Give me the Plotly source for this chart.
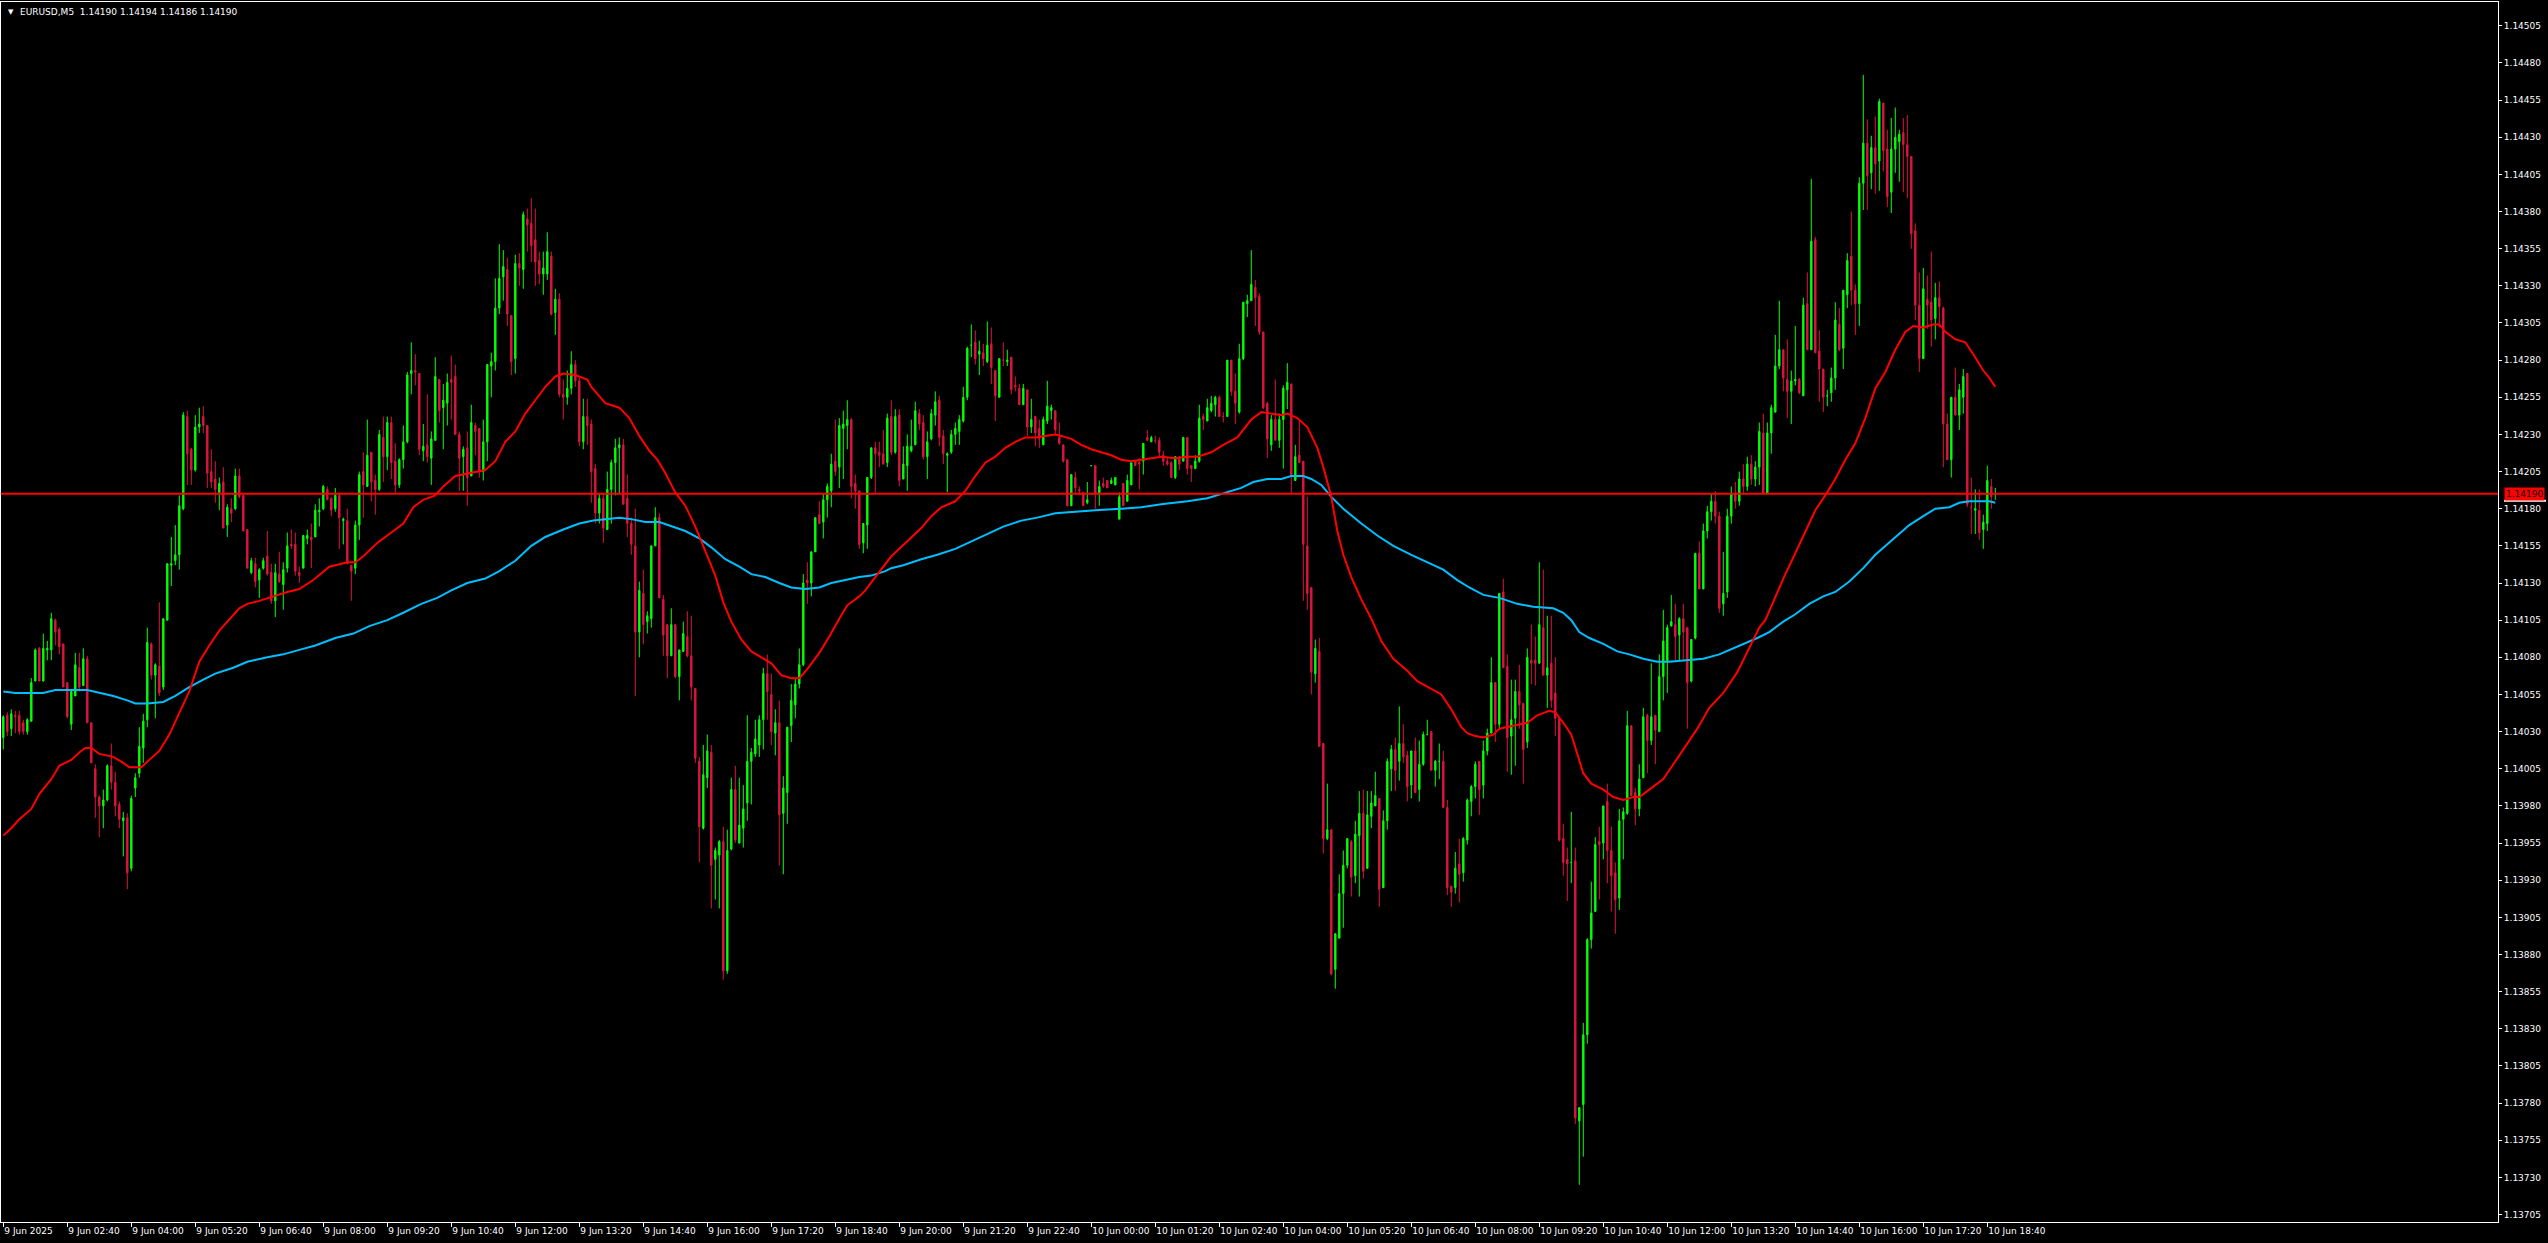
import plotly.graph_objects as go

# ---------------- data (prices in points: value 14190 -> 1.14190) ----------------
opens = [
    14026, 14041, 14032, 14041, 14041, 14036, 14030, 14037, 14064, 14086,
    14064, 14085, 14085, 14105, 14099, 14089, 14063, 14035, 14054, 14073,
    14061, 14079, 14036, 14005, 13986, 13980, 13984, 14007, 13996, 13981,
    13970, 13972, 13938, 13992, 14002, 14019, 14038, 14089, 14068, 14074,
    14060, 14105, 14142, 14145, 14149, 14180, 14242, 14220, 14206, 14235,
    14242, 14236, 14205, 14200, 14191, 14198, 14169, 14180, 14180, 14202,
    14189, 14166, 14137, 14143, 14132, 14140, 14148, 14137, 14118, 14136,
    14129, 14140, 14156, 14156, 14137, 14140, 14160, 14161, 14161, 14178,
    14180, 14193, 14187, 14180, 14189, 14172, 14172, 14142, 14140, 14169,
    14205, 14195, 14218, 14199, 14193, 14228, 14215, 14238, 14212, 14196,
    14213, 14225, 14271, 14273, 14271, 14219, 14223, 14214, 14226, 14267,
    14248, 14251, 14267, 14269, 14230, 14215, 14221, 14202, 14236, 14234,
    14205, 14225, 14276, 14279, 14315, 14336, 14341, 14310, 14281, 14345,
    14341, 14375, 14372, 14361, 14347, 14338, 14338, 14350, 14312, 14321,
    14257, 14255, 14261, 14277, 14266, 14225, 14242, 14237, 14207, 14177,
    14187, 14166, 14193, 14211, 14221, 14223, 14187, 14170, 14155, 14097,
    14123, 14104, 14106, 14155, 14174, 14119, 14102, 14081, 14102, 14067,
    14084, 14094, 14081, 14059, 14010, 13965, 13999, 14016, 13944, 13947,
    13956, 13869, 13951, 13991, 13955, 13965, 13982, 14010, 14015, 14021,
    14038, 14069, 14055, 14029, 14036, 13975, 13989, 14034, 14048, 14062,
    14075, 14132, 14130, 14151, 14176, 14171, 14186, 14192, 14212, 14208,
    14234, 14236, 14240, 14197, 14192, 14157, 14169, 14201, 14221, 14218,
    14217, 14211, 14242, 14218, 14243, 14200, 14209, 14219, 14223, 14244,
    14238, 14215, 14227, 14243, 14253, 14229, 14216, 14218, 14230, 14232,
    14239, 14255, 14290, 14292, 14284, 14285, 14279, 14291, 14273, 14255,
    14280, 14279, 14282, 14263, 14261, 14250, 14260, 14235, 14242, 14234,
    14223, 14239, 14246, 14246, 14228, 14223, 14213, 14182, 14201, 14193,
    14191, 14184, 14209, 14209, 14190, 14197, 14199, 14197, 14196, 14173,
    14197, 14185, 14196, 14212, 14211, 14212, 14228, 14225, 14226, 14226,
    14216, 14212, 14211, 14201, 14215, 14212, 14228, 14209, 14207, 14212,
    14242, 14239, 14246, 14250, 14255, 14242, 14242, 14280, 14259, 14245,
    14281, 14318, 14320, 14329, 14323, 14299, 14251, 14223, 14240, 14226,
    14240, 14260, 14264, 14199, 14216, 14212, 14155, 14127, 14069, 14084,
    14022, 13958, 13964, 13870, 13891, 13921, 13940, 13956, 13933, 13960,
    13975, 13938, 13973, 13980, 13985, 13925, 13970, 14005, 14018, 14010,
    14022, 14014, 13994, 14017, 13991, 14008, 14028, 14030, 14004, 14010,
    14010, 13979, 13926, 13925, 13941, 13935, 13957, 13983, 13993, 14010,
    13994, 14017, 14029, 14063, 14035, 14124, 14074, 14027, 14039, 14057,
    14049, 14023, 14078, 14078, 14076, 14100, 14068, 14076, 14056, 14039,
    13958, 13944, 13942, 13943, 13768, 13779, 13826, 13890, 13909, 13956,
    13955, 13983, 13950, 13935, 13918, 13971, 13975, 14034, 13989, 13978,
    13999, 14041, 14024, 14041, 14030, 14067, 14077, 14101, 14102, 14095,
    14106, 14100, 14064, 14093, 14150, 14126, 14165, 14178, 14185, 14175,
    14116, 14124, 14175, 14190, 14185, 14200, 14195, 14210, 14200, 14208,
    14231, 14190, 14231, 14245, 14276, 14287, 14267, 14259, 14266, 14267,
    14256, 14318, 14287, 14361, 14286, 14274, 14256, 14258, 14268, 14304,
    14288, 14324, 14350, 14327, 14318, 14399, 14426, 14406, 14423, 14414,
    14453, 14422, 14393, 14422, 14427, 14433, 14425, 14417, 14367, 14317,
    14281, 14321, 14319, 14308, 14322, 14315, 14237, 14213, 14255, 14243,
    14255, 14271, 14181, 14179, 14179, 14166, 14170, 14195, 14190,
]
highs = [
    14041, 14043, 14045, 14044, 14044, 14038, 14039, 14066, 14086, 14087,
    14096, 14091, 14110, 14106, 14100, 14089, 14063, 14057, 14083, 14083,
    14086, 14081, 14036, 14008, 13987, 13991, 14008, 14022, 14003, 13983,
    13976, 13975, 13987, 14002, 14033, 14042, 14100, 14090, 14076, 14117,
    14106, 14143, 14161, 14169, 14189, 14245, 14246, 14221, 14243, 14248,
    14249, 14236, 14220, 14212, 14201, 14208, 14183, 14187, 14207, 14207,
    14189, 14166, 14147, 14147, 14140, 14147, 14165, 14143, 14143, 14151,
    14144, 14164, 14166, 14164, 14141, 14162, 14166, 14170, 14183, 14187,
    14196, 14195, 14188, 14194, 14191, 14174, 14180, 14142, 14172, 14205,
    14218, 14240, 14218, 14203, 14233, 14242, 14242, 14242, 14224, 14214,
    14236, 14272, 14292, 14284, 14271, 14237, 14257, 14232, 14282, 14267,
    14264, 14271, 14283, 14277, 14232, 14222, 14232, 14250, 14238, 14234,
    14240, 14277, 14285, 14335, 14358, 14354, 14349, 14310, 14351, 14352,
    14380, 14382, 14389, 14382, 14353, 14353, 14366, 14353, 14328, 14325,
    14267, 14273, 14286, 14280, 14268, 14254, 14254, 14240, 14210, 14190,
    14190, 14205, 14213, 14227, 14228, 14227, 14203, 14174, 14180, 14131,
    14139, 14111, 14155, 14181, 14177, 14122, 14102, 14113, 14102, 14085,
    14104, 14111, 14108, 14059, 14013, 14021, 14028, 14021, 13952, 13957,
    13966, 13964, 13999, 14007, 13999, 13994, 14041, 14019, 14038, 14041,
    14073, 14082, 14069, 14045, 14051, 14000, 14033, 14062, 14066, 14086,
    14136, 14144, 14151, 14174, 14185, 14190, 14197, 14217, 14240, 14241,
    14246, 14253, 14241, 14203, 14192, 14170, 14201, 14221, 14225, 14225,
    14233, 14244, 14253, 14247, 14247, 14222, 14230, 14240, 14252, 14247,
    14243, 14232, 14247, 14259, 14256, 14233, 14218, 14233, 14238, 14243,
    14262, 14289, 14304, 14300, 14293, 14291, 14306, 14302, 14273, 14281,
    14292, 14287, 14282, 14269, 14264, 14264, 14260, 14254, 14242, 14240,
    14242, 14266, 14250, 14246, 14238, 14223, 14213, 14203, 14205, 14195,
    14191, 14198, 14209, 14209, 14199, 14201, 14199, 14201, 14201, 14191,
    14197, 14203, 14211, 14212, 14214, 14224, 14233, 14229, 14229, 14228,
    14219, 14214, 14212, 14215, 14215, 14228, 14228, 14209, 14216, 14250,
    14244, 14254, 14256, 14256, 14256, 14245, 14280, 14280, 14271, 14291,
    14319, 14324, 14354, 14334, 14325, 14299, 14252, 14243, 14267, 14244,
    14263, 14278, 14264, 14223, 14239, 14212, 14188, 14127, 14092, 14093,
    14022, 13995, 13964, 13894, 13934, 13950, 13958, 13957, 13970, 13990,
    13991, 13990, 13990, 14003, 13985, 13977, 14012, 14021, 14026, 14047,
    14035, 14017, 14017, 14026, 14024, 14030, 14038, 14030, 14011, 14022,
    14017, 13984, 13926, 13949, 13958, 13959, 13985, 13994, 14010, 14010,
    14024, 14032, 14080, 14063, 14123, 14133, 14082, 14065, 14065, 14075,
    14049, 14086, 14102, 14094, 14144, 14139, 14108, 14108, 14080, 14039,
    13968, 13952, 13976, 13952, 13777, 13834, 13891, 13929, 13959, 13966,
    13980, 13995, 13966, 13942, 13978, 13979, 14044, 14034, 13992, 14008,
    14046, 14042, 14076, 14041, 14082, 14112, 14102, 14122, 14116, 14107,
    14116, 14100, 14092, 14150, 14158, 14170, 14182, 14190, 14192, 14178,
    14151, 14180, 14195, 14198, 14205, 14210, 14215, 14216, 14212, 14238,
    14244, 14238, 14250, 14297, 14320, 14287, 14294, 14273, 14303, 14268,
    14322, 14339, 14402, 14363, 14300, 14274, 14260, 14275, 14319, 14315,
    14327, 14352, 14380, 14331, 14403, 14472, 14442, 14431, 14444, 14456,
    14453, 14435, 14443, 14450, 14435, 14443, 14445, 14417, 14372, 14339,
    14342, 14337, 14353, 14332, 14333, 14316, 14244, 14255, 14275, 14264,
    14274, 14271, 14201, 14193, 14193, 14176, 14209, 14200, 14194,
]
lows = [
    14018, 14027, 14027, 14029, 14028, 14028, 14028, 14037, 14064, 14064,
    14064, 14078, 14078, 14088, 14082, 14060, 14039, 14031, 14054, 14057,
    14061, 14036, 14009, 13972, 13959, 13965, 13983, 13991, 13973, 13965,
    13946, 13924, 13936, 13986, 13999, 14009, 14033, 14065, 14039, 14054,
    14058, 14105, 14128, 14142, 14139, 14179, 14196, 14196, 14205, 14231,
    14231, 14194, 14194, 14184, 14179, 14167, 14161, 14171, 14179, 14187,
    14165, 14140, 14136, 14127, 14120, 14139, 14135, 14116, 14107, 14130,
    14112, 14137, 14153, 14135, 14130, 14140, 14156, 14140, 14161, 14168,
    14179, 14186, 14175, 14178, 14153, 14156, 14143, 14118, 14136, 14159,
    14174, 14195, 14185, 14176, 14192, 14198, 14206, 14200, 14190, 14194,
    14207, 14224, 14257, 14263, 14216, 14212, 14211, 14196, 14226, 14238,
    14220, 14236, 14240, 14230, 14192, 14192, 14182, 14202, 14216, 14201,
    14199, 14212, 14255, 14273, 14311, 14320, 14303, 14270, 14271, 14330,
    14328, 14353, 14346, 14330, 14331, 14324, 14334, 14310, 14297, 14255,
    14240, 14250, 14257, 14262, 14222, 14220, 14223, 14184, 14170, 14170,
    14157, 14166, 14170, 14189, 14190, 14183, 14161, 14149, 14054, 14080,
    14089, 14096, 14100, 14155, 14120, 14081, 14066, 14081, 14066, 14051,
    14084, 14080, 14051, 14009, 13942, 13964, 13992, 13911, 13917, 13911,
    13863, 13867, 13950, 13955, 13955, 13952, 13970, 13981, 14013, 14013,
    14018, 14038, 14021, 14014, 13940, 13934, 13968, 14023, 14039, 14059,
    14074, 14116, 14121, 14151, 14170, 14160, 14174, 14181, 14202, 14194,
    14200, 14220, 14187, 14180, 14153, 14150, 14153, 14200, 14190, 14208,
    14210, 14208, 14216, 14217, 14195, 14200, 14192, 14218, 14223, 14233,
    14213, 14200, 14226, 14236, 14222, 14210, 14191, 14217, 14223, 14223,
    14238, 14253, 14282, 14277, 14270, 14276, 14278, 14264, 14239, 14255,
    14276, 14276, 14257, 14259, 14250, 14250, 14229, 14231, 14222, 14221,
    14223, 14237, 14240, 14230, 14223, 14211, 14182, 14182, 14190, 14189,
    14182, 14183, 14209, 14180, 14182, 14194, 14194, 14197, 14196, 14173,
    14182, 14185, 14196, 14209, 14193, 14203, 14226, 14225, 14224, 14215,
    14209, 14209, 14201, 14200, 14206, 14212, 14203, 14198, 14207, 14211,
    14233, 14239, 14245, 14242, 14242, 14238, 14242, 14256, 14237, 14244,
    14280, 14309, 14320, 14303, 14297, 14247, 14214, 14219, 14226, 14221,
    14207, 14247, 14190, 14199, 14211, 14118, 14112, 14055, 14063, 14020,
    13948, 13957, 13866, 13857, 13891, 13898, 13938, 13919, 13928, 13919,
    13931, 13938, 13965, 13980, 13912, 13925, 13964, 13990, 13990, 13997,
    14009, 13983, 13985, 13989, 13983, 14007, 14028, 14004, 13993, 13998,
    13979, 13920, 13912, 13921, 13915, 13929, 13954, 13973, 13985, 13974,
    13985, 14014, 14029, 14023, 14031, 14073, 14003, 14001, 14007, 14032,
    13995, 14019, 14062, 14061, 14076, 14068, 14046, 14046, 14027, 13956,
    13933, 13916, 13928, 13766, 13725, 13744, 13820, 13884, 13909, 13917,
    13944, 13928, 13909, 13894, 13910, 13944, 13974, 13987, 13967, 13973,
    13999, 14002, 14021, 14008, 14030, 14051, 14056, 14101, 14078, 14078,
    14078, 14032, 14063, 14092, 14126, 14126, 14160, 14172, 14170, 14110,
    14108, 14120, 14170, 14180, 14182, 14190, 14192, 14196, 14195, 14196,
    14190, 14190, 14217, 14245, 14274, 14259, 14241, 14237, 14263, 14257,
    14256, 14287, 14287, 14285, 14252, 14245, 14249, 14252, 14260, 14286,
    14274, 14315, 14317, 14297, 14303, 14381, 14381, 14395, 14392, 14394,
    14407, 14383, 14379, 14406, 14400, 14393, 14389, 14355, 14307, 14272,
    14281, 14301, 14289, 14294, 14302, 14208, 14213, 14201, 14243, 14233,
    14244, 14181, 14163, 14163, 14159, 14153, 14165, 14180, 14186,
]
closes = [
    14040, 14030, 14042, 14040, 14030, 14030, 14038, 14063, 14085, 14064,
    14086, 14086, 14106, 14097, 14087, 14060, 14040, 14057, 14075, 14060,
    14079, 14036, 14009, 13986, 13980, 13984, 14007, 13996, 13980, 13971,
    13972, 13935, 13985, 13999, 14020, 14037, 14090, 14068, 14075, 14056,
    14106, 14143, 14143, 14149, 14182, 14243, 14217, 14206, 14235, 14237,
    14236, 14204, 14198, 14193, 14197, 14167, 14181, 14177, 14202, 14188,
    14165, 14140, 14145, 14131, 14139, 14145, 14136, 14118, 14137, 14131,
    14139, 14155, 14155, 14138, 14135, 14162, 14162, 14159, 14179, 14179,
    14195, 14186, 14179, 14189, 14174, 14173, 14143, 14138, 14169, 14203,
    14196, 14216, 14198, 14193, 14230, 14215, 14238, 14211, 14196, 14213,
    14225, 14270, 14273, 14272, 14220, 14222, 14215, 14227, 14269, 14246,
    14253, 14265, 14265, 14230, 14214, 14220, 14201, 14238, 14232, 14205,
    14225, 14277, 14279, 14315, 14335, 14343, 14311, 14279, 14345, 14342,
    14378, 14371, 14357, 14346, 14338, 14342, 14353, 14311, 14321, 14257,
    14255, 14261, 14277, 14266, 14225, 14242, 14236, 14205, 14177, 14187,
    14167, 14193, 14211, 14221, 14223, 14183, 14170, 14156, 14097, 14125,
    14102, 14108, 14155, 14174, 14120, 14095, 14081, 14102, 14067, 14085,
    14096, 14081, 14060, 14012, 13966, 14001, 14017, 13940, 13950, 13956,
    13869, 13950, 13991, 13957, 13967, 13978, 14010, 14016, 14025, 14038,
    14069, 14057, 14030, 14036, 13974, 13992, 14033, 14051, 14062, 14075,
    14130, 14130, 14151, 14174, 14170, 14186, 14195, 14210, 14205, 14236,
    14237, 14240, 14195, 14192, 14156, 14170, 14201, 14221, 14217, 14216,
    14210, 14241, 14218, 14242, 14199, 14210, 14222, 14222, 14246, 14237,
    14215, 14225, 14244, 14252, 14228, 14217, 14217, 14230, 14234, 14240,
    14255, 14288, 14290, 14281, 14286, 14281, 14290, 14275, 14256, 14281,
    14280, 14280, 14260, 14262, 14250, 14261, 14235, 14240, 14231, 14227,
    14240, 14249, 14248, 14233, 14224, 14212, 14182, 14203, 14194, 14192,
    14182, 14186, 14209, 14190, 14195, 14195, 14194, 14199, 14201, 14188,
    14182, 14199, 14211, 14209, 14210, 14224, 14226, 14228, 14226, 14218,
    14212, 14210, 14201, 14215, 14210, 14228, 14207, 14207, 14212, 14241,
    14240, 14248, 14251, 14255, 14242, 14242, 14280, 14259, 14251, 14281,
    14319, 14320, 14331, 14322, 14299, 14248, 14227, 14240, 14226, 14240,
    14261, 14265, 14202, 14215, 14211, 14156, 14123, 14070, 14086, 14020,
    13958, 13964, 13867, 13894, 13921, 13940, 13958, 13932, 13961, 13975,
    13936, 13974, 13982, 13987, 13924, 13970, 14010, 14018, 14004, 14022,
    14013, 13993, 14017, 13989, 14008, 14028, 14028, 14004, 14010, 14010,
    13979, 13925, 13922, 13938, 13934, 13958, 13984, 13993, 14008, 13991,
    14017, 14029, 14063, 14035, 14123, 14073, 14026, 14038, 14057, 14048,
    14018, 14080, 14076, 14076, 14102, 14068, 14073, 14051, 14039, 13957,
    13942, 13941, 13942, 13770, 13777, 13826, 13890, 13908, 13954, 13954,
    13980, 13950, 13933, 13917, 13970, 13976, 14034, 13987, 13978, 13998,
    14040, 14024, 14040, 14031, 14067, 14091, 14100, 14104, 14094, 14106,
    14097, 14063, 14092, 14150, 14126, 14165, 14178, 14185, 14175, 14113,
    14123, 14175, 14190, 14185, 14200, 14195, 14210, 14200, 14208, 14232,
    14190, 14231, 14248, 14276, 14287, 14268, 14259, 14266, 14267, 14258,
    14317, 14287, 14360, 14285, 14274, 14255, 14256, 14268, 14307, 14287,
    14327, 14347, 14327, 14318, 14399, 14426, 14404, 14423, 14412, 14454,
    14421, 14390, 14422, 14430, 14432, 14425, 14417, 14365, 14317, 14281,
    14328, 14317, 14307, 14322, 14316, 14237, 14213, 14255, 14243, 14260,
    14269, 14183, 14181, 14180, 14164, 14171, 14199, 14188, 14190,
]

# moving averages (bar position, value in points)
red_ma_bars = [0, 2, 4, 7, 9, 12, 14, 17, 19, 20.5, 22, 24, 27.5, 30, 31.5, 34.5, 36.5, 39, 41.5, 44,
               46.5, 49, 51.5, 54, 57.5, 59, 61, 64, 67.5, 71, 74, 77.5, 81.5, 86, 88, 90, 93.5, 97, 100, 102.5,
               105, 108, 110, 113, 115, 118, 120.5, 123, 125.5, 128, 130.5, 133, 135.5, 138, 140, 143, 146, 147,
               150.5, 154, 156.5, 159, 161.5, 163.5, 165.5, 168, 170.5, 173, 175.5, 178, 180, 182, 184.5, 187,
               189.5, 192, 194.5, 197, 199, 201, 204, 206.5, 209, 211, 214, 215.5, 218, 220.5, 222, 224, 226,
               229.5, 232, 234.5, 238, 240.5, 243, 245.5, 248, 250.5, 253, 255.5, 258, 260.5, 263, 264.5, 267,
               269.5, 272, 274.5, 277, 279.5, 282, 284.5, 287, 289.5, 293, 296, 298.5, 302, 305, 308.5, 312,
               314.5, 317, 319.5, 321, 323.5, 326, 328.5, 330, 332, 333.5, 335, 337, 339.5, 342, 344.5, 347.5,
               351, 353.5, 357, 359.5, 362, 364.5, 366, 368, 370, 372.5, 374, 377.5, 381, 383.5, 386.5, 388,
               390, 392, 393.5, 395, 397, 400, 402.5, 405, 407.5, 409, 411.5, 415, 417.5, 420, 423.5, 426.5,
               430, 433.5, 437, 439, 440.5, 443, 445.5, 448, 450.5, 453, 455.5, 458, 460.5, 463, 465.5, 468,
               470.5, 473, 475.5, 477.5, 480, 482.5, 484, 485.5, 488, 490.5, 492.5, 495, 496.5, 498]
red_ma_vals = [13960, 13965, 13971, 13978, 13988, 13998, 14007, 14011, 14016, 14019, 14019, 14015, 14013, 14009,
               14006, 14006, 14011, 14017, 14028, 14043, 14057, 14077, 14088, 14098, 14109, 14113, 14116, 14118,
               14121, 14124, 14126, 14132, 14141, 14144, 14144, 14148, 14157, 14164, 14170, 14181, 14186, 14189,
               14195, 14202, 14203, 14205, 14206, 14212, 14225, 14232, 14244, 14253, 14262, 14269, 14271, 14270,
               14267, 14262, 14251, 14248, 14241, 14229, 14219, 14213, 14204, 14191, 14182, 14168, 14151, 14135,
               14117, 14104, 14092, 14084, 14080, 14076, 14068, 14066, 14066, 14072, 14083, 14094, 14106, 14115,
               14121, 14125, 14134, 14143, 14148, 14153, 14158, 14167, 14175, 14181, 14185, 14192, 14202, 14211,
               14215, 14221, 14225, 14228, 14228, 14229, 14230, 14229, 14227, 14223, 14220, 14218, 14216, 14213,
               14212, 14213, 14214, 14215, 14214, 14215, 14215, 14218, 14223, 14228, 14240, 14245, 14244, 14243,
               14244, 14241, 14235, 14221, 14208, 14188, 14165, 14149, 14134, 14119, 14106, 14091, 14079, 14071,
               14064, 14059, 14055, 14045, 14033, 14029, 14027, 14026, 14028, 14032, 14034, 14036, 14041, 14044,
               14043, 14036, 14028, 14015, 14002, 13995, 13991, 13986, 13984, 13986, 13986, 13991, 13998, 14008,
               14018, 14032, 14046, 14056, 14070, 14089, 14100, 14105, 14121, 14136, 14150, 14165, 14179, 14189,
               14200, 14213, 14224, 14241, 14261, 14272, 14287, 14299, 14303, 14302, 14304, 14304, 14299, 14294,
               14292, 14284, 14273, 14268, 14262]
blue_ma_bars = [0, 3, 10, 13, 21, 24, 27.5, 31, 33, 36, 40, 43, 46.5, 50, 53, 57.5, 61, 66, 70, 74, 78, 83,
                87.5, 91.5, 96, 100, 104.5, 108.5, 112, 116, 120.5, 124, 128, 132, 135.5, 140, 144, 147.5, 150.5,
                154, 157, 160.5, 164, 167, 170.5, 174, 177, 180.5, 184, 187, 190.5, 194, 197, 200.5, 204, 207,
                210.5, 214, 217, 220.5, 222, 225, 229.5, 233.5, 238, 242, 246, 250, 254.5, 258.5, 263, 267, 273,
                279.5, 284.5, 289.5, 293.5, 296, 301, 306, 309.5, 312.5, 316, 319.5, 322, 325, 327, 329.5, 332,
                335, 339.5, 343.5, 347.5, 352, 356, 360, 363.5, 366.5, 370, 374, 378.5, 382.5, 387.5, 390, 392,
                394, 396.5, 400, 403.5, 406.5, 410, 413.5, 416.5, 421, 425, 429, 432.5, 436, 438.5, 441.5, 445,
                448, 451.5, 455, 458, 461.5, 465, 468, 471.5, 475, 476.5, 480, 483, 486.5, 489, 491.5, 496.5, 498]
blue_ma_vals = [14057, 14056, 14056, 14058, 14058, 14056, 14054, 14051, 14049, 14049, 14050, 14054, 14060, 14065,
                14069, 14073, 14077, 14080, 14082, 14085, 14088, 14093, 14096, 14101, 14105, 14110, 14116, 14120,
                14125, 14130, 14133, 14138, 14145, 14155, 14161, 14166, 14170, 14172, 14173, 14174, 14173, 14171,
                14171, 14168, 14165, 14160, 14154, 14146, 14141, 14136, 14134, 14130, 14127, 14126, 14127, 14130,
                14132, 14134, 14135, 14138, 14140, 14142, 14146, 14149, 14153, 14158, 14163, 14168, 14172, 14174,
                14177, 14178, 14179, 14180, 14181, 14183, 14184, 14185, 14187, 14191, 14194, 14198, 14200, 14200,
                14202, 14202, 14200, 14196, 14188, 14180, 14170, 14162, 14155, 14149, 14144, 14139, 14132, 14127,
                14122, 14120, 14116, 14114, 14113, 14110, 14105, 14097, 14093, 14089, 14084, 14082, 14079, 14077,
                14077, 14078, 14079, 14082, 14086, 14090, 14093, 14097, 14104, 14109, 14116, 14121, 14124, 14131,
                14140, 14149, 14157, 14165, 14169, 14175, 14180, 14181, 14184, 14185, 14185, 14184]

tick_bars = [0, 16, 32, 48, 64, 80, 96, 112, 128, 144, 160, 176, 192, 208, 224, 240,
             256, 272, 288, 304, 320, 336, 352, 368, 384, 400, 416, 432, 448, 464, 480, 496]
tick_labels = ["9 Jun 2025", "9 Jun 02:40", "9 Jun 04:00", "9 Jun 05:20", "9 Jun 06:40", "9 Jun 08:00",
               "9 Jun 09:20", "9 Jun 10:40", "9 Jun 12:00", "9 Jun 13:20", "9 Jun 14:40", "9 Jun 16:00",
               "9 Jun 17:20", "9 Jun 18:40", "9 Jun 20:00", "9 Jun 21:20", "9 Jun 22:40", "10 Jun 00:00",
               "10 Jun 01:20", "10 Jun 02:40", "10 Jun 04:00", "10 Jun 05:20", "10 Jun 06:40", "10 Jun 08:00",
               "10 Jun 09:20", "10 Jun 10:40", "10 Jun 12:00", "10 Jun 13:20", "10 Jun 14:40", "10 Jun 16:00",
               "10 Jun 17:20", "10 Jun 18:40"]
y_tick_points = [13705, 13730, 13755, 13780, 13805, 13830, 13855, 13880, 13905, 13930, 13955,
                 13980, 14005, 14030, 14055, 14080, 14105, 14130, 14155, 14180, 14205, 14230,
                 14255, 14280, 14305, 14330, 14355, 14380, 14405, 14430, 14455, 14480, 14505]
bid_point = 14190
header_text = "EURUSD,M5  1.14190 1.14194 1.14186 1.14190"


def px(v):
    return 1 + v / 1e5


bars = list(range(len(closes)))
O = [px(v) for v in opens]
C = [px(v) for v in closes]
Hh = [max(px(h), o, c) for h, o, c in zip(highs, O, C)]
Ll = [min(px(l), o, c) for l, o, c in zip(lows, O, C)]

# ---------------- layout geometry ----------------
W, H = 2548, 1243
ML, MR, MT, MB = 1, 50, 2, 21
PW, PH = W - ML - MR, H - MT - MB
BAR_PX = 4.0
X0 = -0.575
X1 = X0 + PW / BAR_PX
Y0, Y1 = 1.13700, 1.14521

BULL = "#00FF00"
BEAR = "#DC143C"
FONT = "DejaVu Sans"

fig = go.Figure()
fig.add_trace(go.Candlestick(
    x=bars, open=O, high=Hh, low=Ll, close=C,
    increasing=dict(line=dict(color=BULL, width=1), fillcolor=BULL),
    decreasing=dict(line=dict(color=BEAR, width=1), fillcolor=BEAR),
    whiskerwidth=0, hoverinfo="skip", showlegend=False,
))
fig.add_trace(go.Scatter(x=blue_ma_bars, y=[px(v) for v in blue_ma_vals], mode="lines",
                         line=dict(color="#00BFFF", width=2), hoverinfo="skip", showlegend=False))
fig.add_trace(go.Scatter(x=red_ma_bars, y=[px(v) for v in red_ma_vals], mode="lines",
                         line=dict(color="#FF0000", width=2), hoverinfo="skip", showlegend=False))

bid = px(bid_point)
fig.add_shape(type="line", xref="paper", yref="y", x0=0, x1=1, y0=bid, y1=bid,
              line=dict(color="#FF0000", width=2), layer="above")
bid_paper = (bid - Y0) / (Y1 - Y0)
fig.add_shape(type="line", xref="paper", yref="paper",
              x0=1 + 6 / PW, x1=1 + 48 / PW, y0=bid_paper - 7 / PH, y1=bid_paper - 7 / PH,
              line=dict(color="#FFFFFF", width=2), layer="above")

fig.add_annotation(x=1, xref="paper", y=bid, yref="y", xanchor="left", yanchor="middle",
                   xshift=6, text="1.14190", showarrow=False,
                   font=dict(family=FONT, size=9, color="#000000"),
                   bgcolor="#FF0000", borderpad=1)
fig.add_annotation(x=0, xref="paper", y=1, yref="paper", xanchor="left", yanchor="top",
                   xshift=5, yshift=-4, text="\u25bc", showarrow=False,
                   font=dict(family=FONT, size=7, color="#FFFFFF"))
fig.add_annotation(x=0, xref="paper", y=1, yref="paper", xanchor="left", yanchor="top",
                   xshift=17, yshift=-3, text=header_text, showarrow=False,
                   font=dict(family=FONT, size=9, color="#FFFFFF"))

fig.update_layout(
    width=W, height=H, autosize=False,
    margin=dict(l=ML, r=MR, t=MT, b=MB, pad=0, autoexpand=False),
    paper_bgcolor="#000000", plot_bgcolor="#000000",
    boxgap=0.5, showlegend=False, hovermode=False,
    font=dict(family=FONT, size=9, color="#FFFFFF"),
    xaxis=dict(range=[X0, X1], showgrid=False, zeroline=False, showline=True, mirror=True,
               linecolor="#FFFFFF", linewidth=1, ticks="outside", ticklen=4, tickcolor="#FFFFFF",
               tickvals=tick_bars, ticktext=tick_labels, ticklabelposition="outside right",
               tickangle=0, automargin=False,
               tickfont=dict(family=FONT, size=9, color="#FFFFFF"),
               rangeslider=dict(visible=False), fixedrange=True),
    yaxis=dict(range=[Y0, Y1], side="right", showgrid=False, zeroline=False, showline=True, mirror=True,
               linecolor="#FFFFFF", linewidth=1, ticks="outside", ticklen=3, tickcolor="#FFFFFF",
               tickvals=[px(v) for v in y_tick_points],
               ticktext=["%.5f" % px(v) for v in y_tick_points], automargin=False,
               tickfont=dict(family=FONT, size=9, color="#FFFFFF"), fixedrange=True),
)

fig.write_html("out.html", config={"displayModeBar": False},
               post_script="document.body.style.margin='0';document.body.style.overflow='hidden';"
                           "document.body.style.background='#000';")
